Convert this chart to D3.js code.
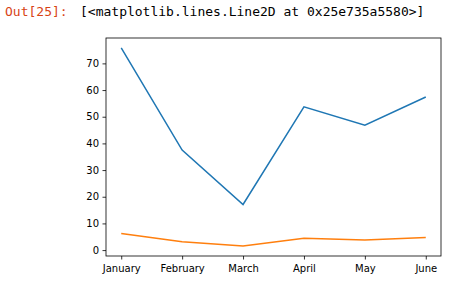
<!DOCTYPE html>
<html>
<head>
<meta charset="utf-8">
<script src="https://cdn.jsdelivr.net/npm/d3@7"></script>
<style>
  body { margin: 0; background: #fff; }
  svg text { font-family: "DejaVu Sans", sans-serif; }
</style>
</head>
<body>
<div id="target"></div>
<script>
let months = ["January", "February", "March", "April", "May", "June"];
let seriesA = [75.8, 37.5, 17.1, 53.7, 46.8, 57.4];
let seriesB = [6.2, 3.1, 1.5, 4.4, 3.8, 4.7];
let yTicks = [0, 10, 20, 30, 40, 50, 60, 70];

let width = 461,
  height = 283;

let box = { left: 106, right: 441, top: 38, bottom: 256 };

let svg = d3.select("#target").append("svg")
  .attr("width", width)
  .attr("height", height);

// jupyter output prompt
svg.append("text")
  .attr("x", 5)
  .attr("y", 16)
  .style("font-family", "'DejaVu Sans Mono', monospace")
  .style("font-size", "13px")
  .style("fill", "#d84315")
  .text("Out[25]:");

svg.append("text")
  .attr("x", 80)
  .attr("y", 16)
  .style("font-family", "'DejaVu Sans Mono', monospace")
  .style("font-size", "13px")
  .style("fill", "#000")
  .text("[<matplotlib.lines.Line2D at 0x25e735a5580>]");

let all = seriesA.concat(seriesB);
let lo = d3.min(all), hi = d3.max(all), pad = (hi - lo) * 0.05;

// matplotlib-style 5% margin on x
let step = (box.right - box.left) / (months.length - 1 + 0.5);
let x = d3.scalePoint()
  .domain(months)
  .range([box.left + step * 0.25, box.right - step * 0.25])
  .padding(0);

let y = d3.scaleLinear()
  .domain([lo - pad, hi + pad])
  .range([box.bottom, box.top]);

let line = d3.line()
  .x((d, i) => x(months[i]))
  .y((d) => y(d));

svg.append("path")
  .datum(seriesA)
  .attr("d", line)
  .attr("fill", "none")
  .attr("stroke", "#1f77b4")
  .attr("stroke-width", 1.5);

svg.append("path")
  .datum(seriesB)
  .attr("d", line)
  .attr("fill", "none")
  .attr("stroke", "#ff7f0e")
  .attr("stroke-width", 1.5);

let xAxis = svg.append("g")
  .attr("transform", "translate(0," + box.bottom + ")")
  .call(d3.axisBottom(x).tickSize(3.5).tickPadding(5).tickSizeOuter(0));

let yAxis = svg.append("g")
  .attr("transform", "translate(" + box.left + ",0)")
  .call(d3.axisLeft(y).tickValues(yTicks).tickSize(3.5).tickPadding(3.5).tickSizeOuter(0));

[xAxis, yAxis].forEach((g) => {
  g.select(".domain").remove();
  g.selectAll("text").style("font-size", "10px").style("fill", "#000")
    .style("font-family", "'DejaVu Sans', sans-serif");
  g.selectAll("line").attr("stroke", "#000").attr("stroke-width", 0.8);
});

svg.append("rect")
  .attr("x", box.left)
  .attr("y", box.top)
  .attr("width", box.right - box.left)
  .attr("height", box.bottom - box.top)
  .attr("fill", "none")
  .attr("stroke", "#000")
  .attr("stroke-width", 0.8);
</script>
</body>
</html>
